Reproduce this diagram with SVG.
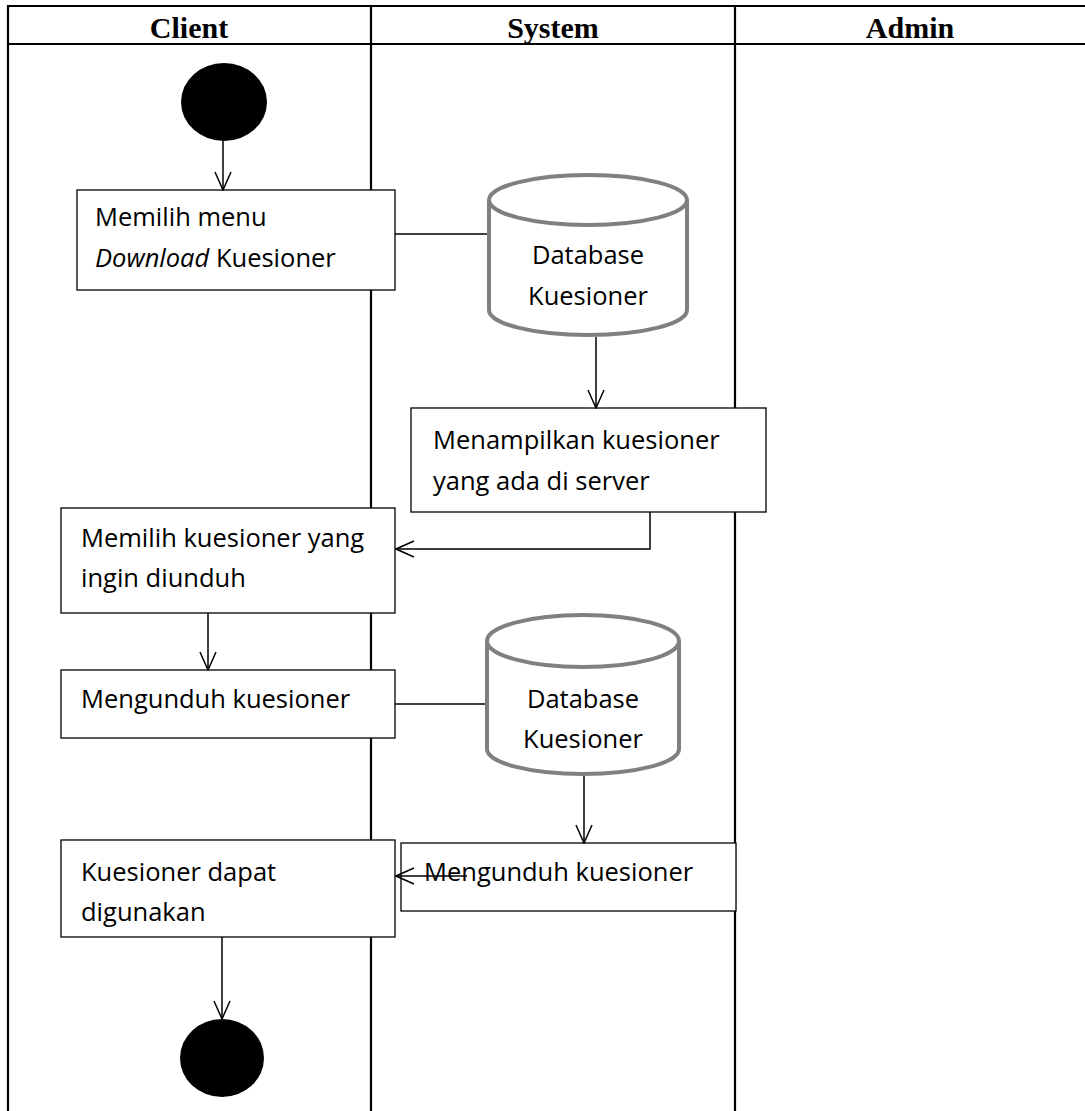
<svg xmlns="http://www.w3.org/2000/svg" width="1085" height="1111" viewBox="0 0 1085 1111">
<defs>
<style>
.lane{stroke:#000;stroke-width:2.2;fill:none}
.hd{font-family:"Liberation Serif",serif;font-weight:bold;font-size:30px;text-anchor:middle;fill:#000}
.box{fill:#fff;stroke:#000;stroke-width:1.3}
.t{font-family:"Open Sans","Noto Sans",sans-serif;font-size:25.5px;fill:#000}
.db{fill:#fff;stroke:#808080;stroke-width:4}
.c{stroke:#000;stroke-width:1.5;fill:none}
.a{marker-end:url(#arr)}
</style>
<marker id="arr" markerUnits="userSpaceOnUse" viewBox="0 0 20 18" refX="19" refY="9" markerWidth="20" markerHeight="18" orient="auto">
<path d="M1,1 L19,9 L1,17" fill="none" stroke="#000" stroke-width="1.5"/>
</marker>
</defs>
<rect width="1085" height="1111" fill="#fff"/>
<g id="lanes">
<line class="lane" x1="7" y1="6" x2="1085" y2="6"/>
<line class="lane" x1="7" y1="44" x2="1085" y2="44"/>
<line class="lane" x1="8" y1="5" x2="8" y2="1111"/>
<line class="lane" x1="371" y1="5" x2="371" y2="1111"/>
<line class="lane" x1="735" y1="5" x2="735" y2="1111"/>
<text class="hd" x="189" y="38">Client</text>
<text class="hd" x="553" y="38">System</text>
<text class="hd" x="910" y="38">Admin</text>
</g>
<g id="start"><ellipse cx="224" cy="102" rx="43" ry="39" fill="#000"/></g>
<g id="box1">
<rect class="box" x="77" y="190" width="318" height="100"/>
<text class="t" x="95" y="226">Memilih menu</text>
<text class="t" x="95" y="267"><tspan font-style="italic">Download</tspan> Kuesioner</text>
</g>
<g id="db1">
<path class="db" d="M489,200 L489,310 A99,25 0 0 0 687,310 L687,200"/>
<ellipse class="db" cx="588" cy="200" rx="99" ry="25"/>
<text class="t" x="588" y="264" text-anchor="middle">Database</text>
<text class="t" x="588" y="305" text-anchor="middle">Kuesioner</text>
</g>
<g id="box3">
<rect class="box" x="411" y="408" width="355" height="104"/>
<text class="t" x="433" y="449">Menampilkan kuesioner</text>
<text class="t" x="433" y="490">yang ada di server</text>
</g>
<g id="box4">
<rect class="box" x="61" y="508" width="334" height="105"/>
<text class="t" x="81" y="547">Memilih kuesioner yang</text>
<text class="t" x="81" y="587">ingin diunduh</text>
</g>
<g id="box5">
<rect class="box" x="61" y="670" width="334" height="68"/>
<text class="t" x="81" y="708">Mengunduh kuesioner</text>
</g>
<g id="db2">
<path class="db" d="M487,641 L487,749 A96,25 0 0 0 679,749 L679,641"/>
<ellipse class="db" cx="583" cy="641" rx="96" ry="26"/>
<text class="t" x="583" y="708" text-anchor="middle">Database</text>
<text class="t" x="583" y="748" text-anchor="middle">Kuesioner</text>
</g>
<g id="box6">
<rect class="box" x="401" y="843" width="335" height="68"/>
<text class="t" x="424" y="881">Mengunduh kuesioner</text>
</g>
<g id="box7">
<rect class="box" x="61" y="840" width="334" height="97"/>
<text class="t" x="81" y="881">Kuesioner dapat</text>
<text class="t" x="81" y="921">digunakan</text>
</g>
<g id="end"><ellipse cx="222" cy="1058" rx="42" ry="39" fill="#000"/></g>
<g id="connectors">
<line class="c a" x1="223" y1="140" x2="223" y2="190"/>
<line class="c" x1="395" y1="234" x2="487" y2="234"/>
<line class="c a" x1="596" y1="337" x2="596" y2="408"/>
<polyline class="c a" points="650,512 650,549 396,549"/>
<line class="c a" x1="208" y1="613" x2="208" y2="670"/>
<line class="c" x1="395" y1="704" x2="485" y2="704"/>
<line class="c a" x1="584" y1="776" x2="584" y2="843"/>
<line class="c a" x1="467" y1="876" x2="396" y2="876"/>
<line class="c a" x1="222" y1="937" x2="222" y2="1019"/>
</g>
</svg>
